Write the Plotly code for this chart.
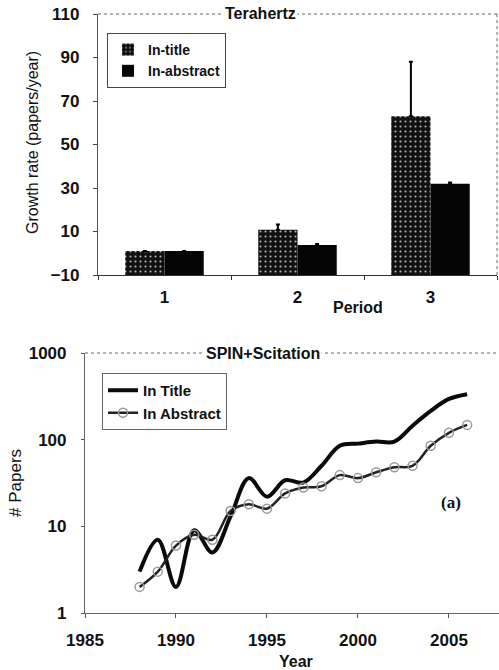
import plotly.graph_objects as go

# ---- Top chart data (Terahertz growth rate) ----
periods = ["1", "2", "3"]
in_title_rate = [1.0, 10.8, 63.0]
in_title_err = [float("nan"), 2.4, 25.0]
in_abstract_rate = [1.0, 3.8, 32.0]
in_abstract_err = [float("nan"), 0.4, 0.5]
bar_base = -10

# ---- Bottom chart data (SPIN+Scitation papers) ----
years = list(range(1988, 2007))
in_title_papers = [3, 7, 2, 9, 5, 13, 36, 22, 34, 32, 50, 85, 90, 95, 95, 145, 215, 295, 335]
in_abstract_papers = [2, 3, 6, 8, 7, 15, 18, 16, 24, 28, 29, 39, 36, 42, 48, 50, 85, 120, 148]

W, H = 499, 670
FONT = "Liberation Sans"

def px(x):
    return x / W

def py(y):
    return 1 - y / H

fig = go.Figure()

fig.add_trace(go.Bar(
    x=periods, y=[v - bar_base for v in in_title_rate], base=bar_base,
    name="In-title", xaxis="x", yaxis="y", legend="legend",
    marker=dict(color="#111111", line=dict(width=0),
                pattern=dict(shape=".", fgcolor="#b0b0b0", bgcolor="#111111",
                             size=5, solidity=0.15, fillmode="replace")),
    error_y=dict(type="data", symmetric=False, array=in_title_err,
                 arrayminus=[0, 0, 0], color="black", thickness=2, width=2),
))
fig.add_trace(go.Bar(
    x=periods, y=[v - bar_base for v in in_abstract_rate], base=bar_base,
    name="In-abstract", xaxis="x", yaxis="y", legend="legend",
    marker=dict(color="#050505", line=dict(width=0)),
    error_y=dict(type="data", symmetric=False, array=in_abstract_err,
                 arrayminus=[0, 0, 0], color="black", thickness=2, width=2),
))

fig.add_trace(go.Scatter(
    x=years, y=in_title_papers, name="In Title", mode="lines",
    xaxis="x2", yaxis="y2", legend="legend2",
    line=dict(color="#0a0a0a", width=4, shape="spline", smoothing=1.0),
))
fig.add_trace(go.Scatter(
    x=years, y=in_abstract_papers, name="In Abstract", mode="lines+markers",
    xaxis="x2", yaxis="y2", legend="legend2",
    line=dict(color="#222222", width=2.5, shape="spline", smoothing=1.0),
    marker=dict(symbol="circle-open", size=9, color="#9a9a9a", line=dict(width=1.5)),
))

tickfont = dict(family=FONT, size=17, color="#111", weight="bold")


def ann(text, x, y, size, bold=True, angle=0, bg=None, family=FONT):
    d = dict(text=text, xref="paper", yref="paper", x=px(x), y=py(y),
             xanchor="center", yanchor="middle", showarrow=False, textangle=angle,
             font=dict(family=family, size=size, color="#111",
                       weight="bold" if bold else "normal"))
    if bg:
        d.update(bgcolor=bg, borderpad=1)
    return d


fig.update_layout(
    width=W, height=H,
    margin=dict(l=0, r=0, t=0, b=0, pad=0),
    paper_bgcolor="white", plot_bgcolor="white",
    showlegend=True,
    barmode="group", bargap=0.41, bargroupgap=0.0,
    xaxis=dict(domain=[px(98), px(497)], type="category", automargin=False,
               tickson="boundaries", ticks="outside", ticklen=4, tickcolor="#333",
               showline=True, linecolor="#333", linewidth=1.2,
               showgrid=False, zeroline=False, tickfont=tickfont,
               ticklabelstandoff=6, anchor="y"),
    yaxis=dict(domain=[py(275), py(14)], range=[-10, 110], tickvals=[-10, 10, 30, 50, 70, 90, 110],
               automargin=False,
               ticks="outside", ticklen=4, tickcolor="#444",
               showline=True, linecolor="#555", linewidth=1.2,
               showgrid=False, zeroline=False, tickfont=tickfont,
               ticklabelstandoff=10, anchor="x"),
    xaxis2=dict(domain=[px(85), 1.0], range=[1985, 2007.75], tickvals=[1985, 1990, 1995, 2000, 2005],
                automargin=False,
                ticks="outside", ticklen=4, tickcolor="#555",
                showline=True, linecolor="#666", linewidth=1.2,
                showgrid=False, zeroline=False, tickfont=tickfont,
                ticklabelstandoff=7, anchor="y2"),
    yaxis2=dict(domain=[py(613), py(353)], type="log", range=[0, 3],
                tickvals=[1, 10, 100, 1000], ticktext=["1", "10", "100", "1000"],
                automargin=False,
                ticks="outside", ticklen=3, tickcolor="#555",
                showline=True, linecolor="#666", linewidth=1.2,
                showgrid=False, zeroline=False, tickfont=tickfont,
                ticklabelstandoff=11, anchor="x2"),
    legend=dict(x=px(107), y=py(33), xanchor="left", yanchor="top",
                bordercolor="#444", borderwidth=1, bgcolor="white",
                font=dict(family=FONT, size=14, color="#111", weight="bold"),
                itemwidth=30, tracegroupgap=0),
    legend2=dict(x=px(102), y=py(373), xanchor="left", yanchor="top",
                 bordercolor="#666", borderwidth=1, bgcolor="white",
                 font=dict(family=FONT, size=15, color="#111", weight="bold"),
                 itemwidth=30, tracegroupgap=0),
    shapes=[
        dict(type="line", xref="x domain", yref="y domain", x0=0, x1=1, y0=1, y1=1,
             line=dict(color="#666", width=1, dash="dot")),
        dict(type="line", xref="x domain", yref="y domain", x0=1, x1=1, y0=0, y1=1,
             line=dict(color="#666", width=1, dash="dot")),
        dict(type="line", xref="x2 domain", yref="y2 domain", x0=0, x1=1, y0=1, y1=1,
             line=dict(color="#666", width=1, dash="dot")),
    ],
    annotations=[
        ann("Terahertz", 260, 14, 16, bg="white"),
        ann("SPIN+Scitation", 263, 353, 16, bg="white"),
        ann("Growth rate (papers/year)", 32, 143, 16, bold=False, angle=-90),
        ann("Period", 358, 307, 16),
        ann("# Papers", 16, 483, 17, bold=False, angle=-90),
        ann("Year", 296, 661, 16),
        ann("(a)", 451, 502, 17, family="Liberation Serif"),
    ],
)

fig.write_html("out.html")
